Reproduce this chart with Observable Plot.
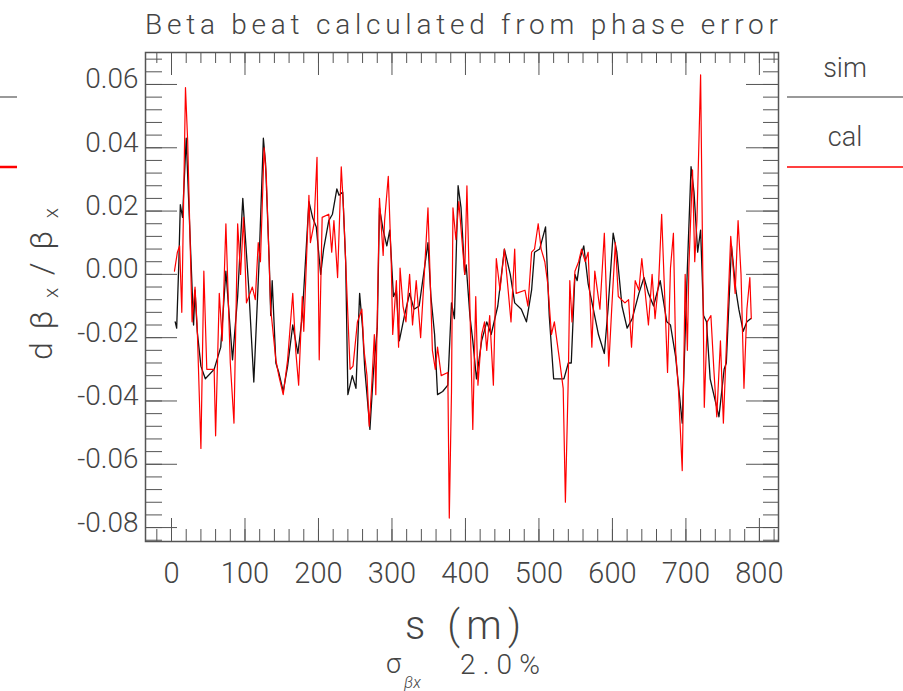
<!DOCTYPE html>
<html><head><meta charset="utf-8">
<script src="https://cdn.jsdelivr.net/npm/d3@7"></script>
<script src="https://cdn.jsdelivr.net/npm/@observablehq/plot@0.6"></script>
<style>body{margin:0;background:#fff;} svg{display:block}</style>
</head><body><div id="chart"></div>
<script>
// ---- data ----
const simS = [5,7,10,12,15,20,30,32,35,40,46,58,67,74,83,90,97,105,112,119,125,
  128,133,135,137,142,146,152,158,165,172,178,187,192,197,203,207,214,219,225,228,233,237,240,246,251,256,260,
  263,266,270,275,280,283,288,293,297,302,306,310,317,324,330,337,343,349,353,358,362,369,376,381,385,390,394,399,
  401,406,410,415,422,429,435,444,453,461,467,476,483,490,494,501,509,514,520,534,
  540,544,549,552,556,561,567,574,581,589,594,601,606,613,620,627,636,643,649,656,665,674,
  679,686,695,702,707,711,716,720,724,728,733,745,752,755,762,768,772,778,783,788];
const simV = [-0.015,-0.017,0.004,0.022,0.018,0.043,-0.016,-0.005,-0.018,-0.029,-0.033,-0.030,-0.023,0.001,-0.027,-0.007,0.024,-0.004,-0.034,0.003,0.043,
  0.035,0.004,-0.013,-0.002,-0.028,-0.031,-0.037,-0.029,-0.016,-0.025,-0.013,0.023,0.018,0.015,0.000,0.008,0.017,0.019,0.027,0.025,0.026,0.004,-0.038,-0.032,-0.036,-0.006,-0.017,
  -0.030,-0.038,-0.049,-0.030,-0.017,0.021,0.014,0.009,0.014,-0.007,-0.005,-0.021,-0.013,-0.006,-0.011,-0.010,0.000,0.010,-0.007,-0.019,-0.038,-0.037,-0.035,-0.009,-0.014,0.028,0.021,0.000,
  0.003,-0.013,-0.021,-0.033,-0.021,-0.015,-0.019,-0.010,0.008,0.000,-0.009,-0.011,-0.015,-0.005,0.007,0.008,0.015,-0.013,-0.033,-0.033,
  -0.028,-0.028,0.000,-0.002,0.005,0.009,-0.003,-0.011,-0.019,-0.025,-0.011,0.013,0.007,-0.010,-0.017,-0.014,-0.006,-0.001,-0.006,-0.010,-0.002,-0.015,
  -0.016,-0.026,-0.047,0.002,0.034,0.026,0.007,0.014,-0.013,-0.015,-0.033,-0.045,-0.030,-0.028,0.009,-0.005,-0.011,-0.018,-0.015,-0.014];
const calS = [4,8,11,14,19,22,28,32,35,40,44,48,58,60,65,69,74,80,85,90,94,98,102,110,114,118,121,126,
  129,135,142,146,152,158,165,169,173,178,180,187,189,194,198,201,205,214,218,221,226,231,234,237,243,247,253,259,262,
  266,269,272,276,278,283,288,290,295,299,301,306,309,311,315,319,324,328,333,339,344,349,355,359,362,367,376,378,381,383,387,391,399,
  402,405,410,414,417,422,426,429,433,438,442,447,453,462,467,469,481,485,490,494,499,503,508,512,517,521,528,533,536,540,
  542,545,549,554,558,563,567,572,576,583,589,595,599,604,608,617,622,626,631,636,640,649,654,658,663,667,675,
  679,683,686,690,695,699,702,704,709,712,715,720,722,725,729,734,738,742,747,751,757,761,767,771,775,779,783,787,789];
const calV = [0.001,0.007,0.009,-0.012,0.059,0.042,-0.015,-0.004,-0.017,-0.055,0.001,-0.030,-0.030,-0.051,-0.006,-0.021,0.016,-0.028,-0.047,0.016,0.000,0.018,-0.009,-0.004,-0.008,0.010,0.004,0.040,
  0.031,-0.011,-0.027,-0.032,-0.038,-0.027,-0.006,-0.024,-0.035,-0.007,-0.018,0.025,0.010,0.016,0.037,-0.027,0.018,0.019,0.007,0.017,-0.001,0.034,0.021,0.004,-0.030,-0.029,-0.015,-0.011,-0.024,
  -0.032,-0.048,-0.037,-0.019,-0.038,0.024,0.006,0.017,0.031,0.004,-0.019,-0.002,-0.023,0.002,-0.010,-0.015,0.000,-0.016,-0.002,-0.020,0.000,0.021,-0.024,-0.030,-0.023,-0.032,-0.031,-0.077,-0.037,0.021,0.011,0.023,0.000,
  0.028,0.000,-0.049,-0.007,-0.035,-0.019,-0.015,-0.024,-0.013,-0.035,0.005,-0.005,0.008,-0.015,0.008,-0.006,-0.005,-0.010,0.007,0.008,0.016,0.008,0.004,-0.003,-0.019,-0.015,-0.027,-0.036,-0.072,-0.032,
  -0.002,-0.015,0.001,0.004,0.008,0.004,0.007,-0.023,0.001,-0.011,0.013,-0.029,-0.011,0.010,-0.007,-0.009,-0.008,-0.023,-0.002,-0.005,0.005,-0.016,0.000,-0.014,-0.002,0.019,-0.031,
  0.002,0.013,-0.024,-0.037,-0.062,0.000,-0.024,0.002,0.033,0.004,0.017,0.063,0.021,-0.042,-0.015,-0.013,-0.030,-0.045,-0.021,-0.047,-0.011,0.012,-0.006,0.017,0.000,-0.036,-0.011,-0.001,-0.014];
const xTicks = [0,100,200,300,400,500,600,700,800];
const yTicks = [-0.08,-0.06,-0.04,-0.02,0.00,0.02,0.04,0.06];
const legendLabels = ["sim","cal"];
const titleText = "Beta beat calculated from phase error";
const xLabel = "s (m)";
const captionValue = "2.0%";

// ---- layout ----
const W = 903, H = 691;
const mL = 145, mR = 903 - 778, mT = 52, mB = 691 - 541;
const plotW = W - mL - mR, plotH = H - mT - mB;
const FONT = "Roboto, 'DejaVu Sans', sans-serif";
const INK = "#444";

const sim = simS.map((s, i) => ({s, v: simV[i]}));
const cal = calS.map((s, i) => ({s, v: calV[i]}));
const yMinor = d3.range(-21, 18).map(k => +(k * 0.004).toFixed(3));
const xMinor = d3.range(-1, 42).map(k => k * 20);

const chart = Plot.plot({
  width: W, height: H,
  marginLeft: mL, marginRight: mR, marginTop: mT, marginBottom: mB,
  x: {domain: [-35.4, 826]},
  y: {domain: [-0.0844, 0.0701]},
  style: {fontFamily: FONT, background: "#fff", color: INK},
  marks: [
    // inward ticks on four sides
    Plot.ruleY(yTicks, {insetRight: plotW - 32, stroke: "#555"}),
    Plot.ruleY(yMinor, {insetRight: plotW - 17, stroke: "#555"}),
    Plot.ruleY(yTicks, {insetLeft: plotW - 32, stroke: "#555"}),
    Plot.ruleY(yMinor, {insetLeft: plotW - 15, stroke: "#555"}),
    Plot.ruleX(xTicks, {insetBottom: plotH - 23, stroke: "#555"}),
    Plot.ruleX(xMinor, {insetBottom: plotH - 11, stroke: "#555"}),
    Plot.ruleX(xTicks, {insetTop: plotH - 23, stroke: "#555"}),
    Plot.ruleX(xMinor, {insetTop: plotH - 12, stroke: "#555"}),
    Plot.frame({stroke: "#555", strokeWidth: 1.5}),
    Plot.axisX({ticks: xTicks, tickSize: 0, tickPadding: 21, fontSize: 29, label: null, fill: INK, fontWeight: 300}),
    Plot.axisY({ticks: yTicks, tickSize: 0, tickPadding: 7, fontSize: 28, label: null, dy: -5,
      tickFormat: d => d.toFixed(2), fill: INK, fontWeight: 300}),
    Plot.line(sim, {x: "s", y: "v", stroke: "#111", strokeWidth: 1.3}),
    Plot.line(cal, {x: "s", y: "v", stroke: "#ff0000", strokeWidth: 1.2})
  ]
});
document.getElementById("chart").append(chart);

// ---- decorations: title, axis titles, caption, legend ----
const svg = d3.select(chart);
const txt = (x, y, s, size, extra = {}) => {
  const t = svg.append("text").attr("x", x).attr("y", y).attr("font-size", size)
    .attr("font-family", FONT).attr("font-weight", 300).attr("fill", INK)
    .attr("text-anchor", "start").text(s);
  for (const k in extra) t.attr(k, extra[k]);
  return t;
};
txt(145, 34, titleText, 28, {textLength: 633, lengthAdjust: "spacing"});
txt(405, 639, xLabel, 40, {textLength: 116, lengthAdjust: "spacing"});

// y label  dβx/βx
const yl = svg.append("text").attr("transform", "translate(52,360) rotate(-90)")
  .attr("text-anchor", "start").attr("font-family", FONT).attr("font-weight", 300)
  .attr("fill", INK).attr("font-size", 32).attr("textLength", 152).attr("lengthAdjust", "spacing");
yl.append("tspan").text("dβ");
yl.append("tspan").attr("font-size", 21).attr("dy", 6).text("x");
yl.append("tspan").attr("dy", -6).text("/β");
yl.append("tspan").attr("font-size", 21).attr("dy", 6).text("x");

// caption σβx 2.0%
txt(386, 673, "σ", 27);
txt(404, 688, "βx", 16, {"font-style": "italic"});
txt(460, 674, captionValue, 28, {textLength: 80, lengthAdjust: "spacing"});

// legend (outside right) and cut-off stubs on the left
const legendY = [97, 167], legendTextY = [77, 146], legendColors = ["#777", "#ff0000"], legendW = [1.5, 1.6];
legendLabels.forEach((lab, i) => {
  txt(845, legendTextY[i], lab, 27, {"text-anchor": "middle"});
  svg.append("line").attr("x1", 787).attr("x2", 903).attr("y1", legendY[i]).attr("y2", legendY[i])
    .attr("stroke", legendColors[i]).attr("stroke-width", legendW[i]);
  svg.append("line").attr("x1", 0).attr("x2", 17).attr("y1", legendY[i]).attr("y2", legendY[i])
    .attr("stroke", legendColors[i]).attr("stroke-width", i ? 2.5 : 1.5);
});
</script>
</body></html>
